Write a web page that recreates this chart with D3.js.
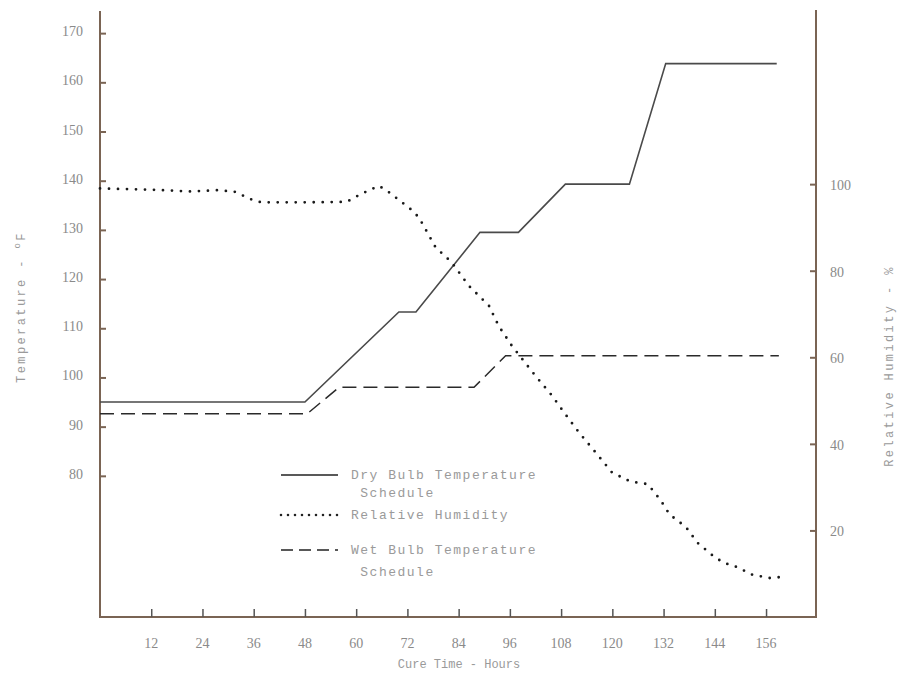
<!DOCTYPE html>
<html>
<head>
<meta charset="utf-8">
<script src="https://cdn.jsdelivr.net/npm/d3@7"></script>
<style>
    body { margin: 0; background: #ffffff; }
    svg { display: block; }
    .tick-label { font-family: "Liberation Serif", serif; font-size: 14px; fill: #8a8a8a; }
    .typed { font-family: "Liberation Mono", monospace; fill: #9a9a9a; }
</style>
</head>
<body>
<svg id="chart" width="901" height="681"></svg>
<script>
"use strict";

// cure time (hours) and temperatures (deg F)
const dryHours = [0, 48, 70, 74, 89, 98, 109, 124, 132.5, 158.5];
const dryBulb = [95, 95, 113.3, 113.3, 129.5, 129.5, 139.3, 139.3, 163.8, 163.8];

const wetHours = [0, 48.5, 56, 87.6, 95, 159];
const wetBulb = [92.6, 92.6, 98, 98, 104.4, 104.4];

// relative humidity (%)
const rhHours = [0, 12.6, 21.3, 27.4, 31.4, 35.4, 37.7, 48.5, 57.8, 61.1, 65.3, 67.2, 72.8, 74.7,
    78.6, 82.4, 86.4, 91.1, 93.4, 96.5, 102, 105.9, 108.5, 112.2, 116.1, 119.9, 124.2, 128.3,
    131.3, 133.4, 137.2, 140, 143.5, 145.9, 149.3, 152.7, 156.8, 159.2];
const rhValues = [99, 98.7, 98.3, 98.6, 98.3, 96.5, 95.8, 95.8, 95.9, 97.7, 99.6, 98.5, 94.2, 92.3,
    85.4, 81.9, 76.5, 71.9, 67.2, 62.6, 55.7, 51.1, 47.5, 42.6, 38, 33.4, 31.3, 30.7,
    27, 23.7, 20.8, 17.1, 14.2, 12.6, 11.5, 9.8, 9, 9.2];

const hourTicks = [12, 24, 36, 48, 60, 72, 84, 96, 108, 120, 132, 144, 156];
const tempTicks = [80, 90, 100, 110, 120, 130, 140, 150, 160, 170];
const rhTicks = [20, 40, 60, 80, 100];

const plot = {left: 100, right: 816, top: 11, bottom: 617};
const axisColor = "#7a6454";

const svg = d3.select("#chart");

const x = d3.scaleLinear().domain([0, 167.7]).range([plot.left, plot.right]);
const yT = d3.scaleLinear().domain([51.3, 174.5]).range([plot.bottom, plot.top]);
const yRH = d3.scaleLinear().domain([0, 140]).range([plot.bottom, plot.top]);

// frame lines (left, bottom, right)
svg.append("path")
    .attr("stroke", axisColor)
    .attr("stroke-width", 2)
    .attr("fill", "none")
    .attr("d", `M${plot.left},${plot.top}V${plot.bottom}H${plot.right}V${plot.top - 1}`);

// left axis: temperature
const leftAxis = svg.append("g")
    .attr("transform", `translate(${plot.left},0)`)
    .call(d3.axisRight(yT).tickValues(tempTicks).tickSize(6).tickFormat(""));
leftAxis.select(".domain").remove();
leftAxis.selectAll("line").attr("stroke", axisColor).attr("stroke-width", 2);

svg.append("g").selectAll("text")
    .data(tempTicks)
    .join("text")
    .attr("class", "tick-label")
    .attr("x", 83)
    .attr("y", d => yT(d) + 3)
    .attr("text-anchor", "end")
    .text(d => d);

// right axis: relative humidity
const rightAxis = svg.append("g")
    .attr("transform", `translate(${plot.right},0)`)
    .call(d3.axisLeft(yRH).tickValues(rhTicks).tickSize(6).tickFormat(""));
rightAxis.select(".domain").remove();
rightAxis.selectAll("line").attr("stroke", axisColor).attr("stroke-width", 2);

svg.append("g").selectAll("text")
    .data(rhTicks)
    .join("text")
    .attr("class", "tick-label")
    .attr("x", 830)
    .attr("y", d => yRH(d) + 6)
    .attr("text-anchor", "start")
    .text(d => d);

// bottom axis: cure time
const bottomAxis = svg.append("g")
    .attr("transform", `translate(0,${plot.bottom})`)
    .call(d3.axisTop(x).tickValues(hourTicks).tickSize(8).tickFormat(""));
bottomAxis.select(".domain").remove();
bottomAxis.selectAll("line").attr("stroke", "#555").attr("stroke-width", 1.5);

svg.append("g").selectAll("text")
    .data(hourTicks)
    .join("text")
    .attr("class", "tick-label")
    .attr("x", d => x(d))
    .attr("y", 648)
    .attr("text-anchor", "middle")
    .text(d => d);

// axis titles
svg.append("text")
    .attr("class", "typed")
    .attr("x", 459)
    .attr("y", 668)
    .attr("text-anchor", "middle")
    .style("font-size", "12px")
    .text("Cure Time - Hours");

const leftTitle = svg.append("text")
    .attr("class", "typed")
    .attr("transform", "translate(25,307) rotate(-90)")
    .attr("text-anchor", "middle")
    .style("font-size", "12px")
    .style("letter-spacing", "2.4px");
leftTitle.append("tspan").text("Temperature - ");
leftTitle.append("tspan").attr("dy", -5).style("font-size", "9px").text("o");
leftTitle.append("tspan").attr("dy", 5).text("F");

svg.append("text")
    .attr("class", "typed")
    .attr("transform", "translate(893,366) rotate(-90)")
    .attr("text-anchor", "middle")
    .style("font-size", "12px")
    .style("letter-spacing", "2.4px")
    .text("Relative Humidity - %");

// series
const tempLine = d3.line().x(d => x(d[0])).y(d => yT(d[1]));
const rhLine = d3.line().x(d => x(d[0])).y(d => yRH(d[1]));

svg.append("path")
    .datum(d3.zip(dryHours, dryBulb))
    .attr("fill", "none")
    .attr("stroke", "#4a4a4a")
    .attr("stroke-width", 1.6)
    .attr("d", tempLine);

svg.append("path")
    .datum(d3.zip(wetHours, wetBulb))
    .attr("fill", "none")
    .attr("stroke", "#2a2a2a")
    .attr("stroke-width", 1.5)
    .attr("stroke-dasharray", "14,7")
    .attr("d", tempLine);

svg.append("path")
    .datum(d3.zip(rhHours, rhValues))
    .attr("fill", "none")
    .attr("stroke", "#1a1a1a")
    .attr("stroke-width", 2.8)
    .attr("stroke-linecap", "round")
    .attr("stroke-dasharray", "0,9")
    .attr("d", rhLine);

// legend
const legend = svg.append("g");
const legendRows = [
    {y: 475, dash: null, width: 1.6, cap: "butt", lines: ["Dry Bulb Temperature", " Schedule"]},
    {y: 515, dash: "0,7", width: 2.6, cap: "round", lines: ["Relative Humidity"]},
    {y: 550, dash: "12,6", width: 1.5, cap: "butt", lines: ["Wet Bulb Temperature", " Schedule"]}
];
legendRows.forEach(row => {
    legend.append("line")
        .attr("x1", 281).attr("x2", 338)
        .attr("y1", row.y).attr("y2", row.y)
        .attr("stroke", "#222")
        .attr("stroke-width", row.width)
        .attr("stroke-linecap", row.cap)
        .attr("stroke-dasharray", row.dash);
    legend.append("text")
        .attr("class", "typed")
        .attr("x", 351)
        .attr("y", row.y + 4)
        .style("font-size", "13px")
        .style("letter-spacing", "1.5px")
        .style("white-space", "pre")
        .selectAll("tspan")
        .data(row.lines)
        .join("tspan")
        .attr("x", 351)
        .attr("dy", (d, i) => i == 0 ? 0 : (row.y > 500 ? 22 : 18))
        .text(d => d);
});
</script>
</body>
</html>
